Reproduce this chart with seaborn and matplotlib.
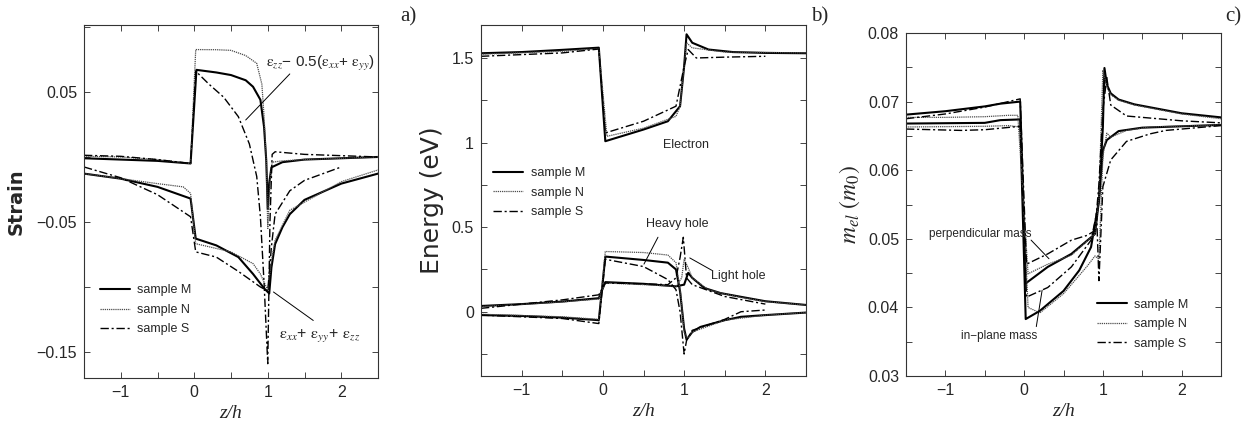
import matplotlib
matplotlib.use("Agg")
import matplotlib.pyplot as plt
from matplotlib.lines import Line2D
from matplotlib.ticker import MultipleLocator
import seaborn as sns

# ---------------- data ----------------
# a) strain: upper = eps_zz - 0.5(eps_xx+eps_yy), lower = eps_xx+eps_yy+eps_zz
a_top_M_x = [-1.5, -1.0, -0.5, -0.05, 0.03, 0.3, 0.5, 0.7, 0.8, 0.9, 0.95, 0.98, 1.0, 1.02, 1.05, 1.2, 1.5, 2.0, 2.5]
a_top_M_y = [-0.001, -0.002, -0.003, -0.005, 0.067, 0.065, 0.063, 0.059, 0.054, 0.044, 0.023, -0.003, -0.04, -0.02, -0.008, -0.004, -0.002, -0.001, 0.0]
a_top_N_x = [-1.5, -1.0, -0.5, -0.05, 0.02, 0.3, 0.5, 0.7, 0.85, 0.92, 0.95, 0.98, 1.0, 1.03, 1.06, 1.2, 1.5, 2.0, 2.5]
a_top_N_y = [0.0005, 0.0, -0.002, -0.005, 0.0826, 0.0825, 0.082, 0.078, 0.072, 0.056, 0.031, -0.003, -0.055, -0.02, -0.004, -0.003, -0.002, -0.001, 0.0]
a_top_S_x = [-1.5, -1.0, -0.5, -0.05, 0.02, 0.2, 0.4, 0.6, 0.75, 0.85, 0.9, 0.95, 1.0, 1.03, 1.06, 1.1, 1.5, 2.0, 2.5]
a_top_S_y = [0.0013, 0.0005, -0.002, -0.005, 0.066, 0.056, 0.046, 0.031, 0.010, -0.015, -0.046, -0.097, -0.159, -0.05, 0.002, 0.004, 0.002, 0.001, 0.0]

a_bot_M_x = [-1.5, -1.0, -0.5, -0.05, 0.02, 0.3, 0.6, 0.8, 0.95, 1.02, 1.05, 1.1, 1.2, 1.3, 1.5, 2.0, 2.5]
a_bot_M_y = [-0.0128, -0.0167, -0.023, -0.032, -0.0628, -0.068, -0.077, -0.090, -0.101, -0.105, -0.085, -0.067, -0.054, -0.044, -0.033, -0.0205, -0.0128]
a_bot_N_x = [-1.5, -0.5, -0.15, -0.05, 0.02, 0.5, 0.8, 0.9, 1.0, 1.05, 1.1, 1.3, 2.0, 2.5]
a_bot_N_y = [-0.0128, -0.0205, -0.023, -0.028, -0.0667, -0.073, -0.082, -0.09, -0.1026, -0.08, -0.064, -0.041, -0.019, -0.010]
a_bot_S_x = [-1.5, -1.0, -0.5, -0.05, 0.02, 0.3, 0.6, 0.9, 1.0, 1.05, 1.1, 1.3, 1.5, 2.0]
a_bot_S_y = [-0.0077, -0.016, -0.029, -0.046, -0.073, -0.077, -0.088, -0.100, -0.103, -0.069, -0.044, -0.026, -0.018, -0.0077]

# b) band edges: electron, heavy hole, light hole
b_el_M_x = [-1.5, -1.0, -0.5, -0.05, 0.03, 0.5, 0.8, 0.95, 1.0, 1.03, 1.1, 1.3, 1.6, 2.0, 2.5]
b_el_M_y = [1.528, 1.535, 1.548, 1.561, 1.008, 1.077, 1.126, 1.215, 1.45, 1.64, 1.59, 1.55, 1.535, 1.53, 1.528]
b_el_N_x = [-1.5, -0.5, -0.05, 0.05, 0.5, 0.9, 0.95, 1.03, 1.1, 1.5, 2.5]
b_el_N_y = [1.522, 1.54, 1.555, 1.037, 1.085, 1.155, 1.215, 1.59, 1.56, 1.535, 1.53]
b_el_S_x = [-1.5, -0.5, -0.05, 0.03, 0.5, 0.9, 1.0, 1.05, 1.15, 1.5, 2.0]
b_el_S_y = [1.51, 1.53, 1.553, 1.057, 1.126, 1.215, 1.45, 1.55, 1.50, 1.505, 1.51]

b_hh_M_x = [-1.5, -1.0, -0.5, -0.05, 0.03, 0.5, 0.8, 0.9, 0.95, 1.0, 1.03, 1.1, 1.2, 1.5, 1.7, 2.0, 2.5]
b_hh_M_y = [-0.02, -0.025, -0.035, -0.05, 0.326, 0.306, 0.29, 0.25, 0.12, -0.1, -0.165, -0.12, -0.09, -0.05, -0.03, -0.02, -0.005]
b_hh_N_x = [-1.5, -0.5, -0.05, 0.03, 0.5, 0.8, 0.9, 0.96, 1.0, 1.04, 1.1, 1.5, 2.0, 2.5]
b_hh_N_y = [-0.015, -0.03, -0.045, 0.356, 0.35, 0.335, 0.29, 0.1, -0.12, -0.16, -0.12, -0.05, -0.02, -0.005]
b_hh_S_x = [-1.5, -0.5, -0.05, 0.03, 0.5, 0.8, 0.9, 0.95, 1.0, 1.03, 1.1, 1.5, 1.7, 2.0]
b_hh_S_y = [-0.02, -0.04, -0.07, 0.31, 0.267, 0.19, 0.13, 0.0, -0.25, -0.17, -0.11, -0.045, 0.0, 0.01]

b_lh_M_x = [-1.5, -1.0, -0.5, -0.05, 0.03, 0.5, 0.9, 1.0, 1.05, 1.1, 1.25, 1.45, 1.7, 2.0, 2.5]
b_lh_M_y = [0.034, 0.045, 0.06, 0.08, 0.175, 0.165, 0.15, 0.16, 0.23, 0.2, 0.14, 0.11, 0.088, 0.062, 0.04]
b_lh_N_x = [-1.5, -0.5, -0.05, 0.03, 0.5, 0.9, 0.97, 1.0, 1.05, 1.1, 1.3, 1.5, 1.7, 2.0, 2.5]
b_lh_N_y = [0.03, 0.058, 0.075, 0.17, 0.16, 0.15, 0.2, 0.31, 0.26, 0.2, 0.13, 0.105, 0.085, 0.06, 0.04]
b_lh_S_x = [-1.5, -0.5, -0.05, 0.03, 0.5, 0.8, 0.9, 0.95, 0.99, 1.03, 1.1, 1.5, 2.0]
b_lh_S_y = [0.02, 0.07, 0.1, 0.17, 0.165, 0.16, 0.2, 0.32, 0.44, 0.2, 0.16, 0.09, 0.045]

# c) electron effective mass: perpendicular and in-plane
c_perp_M_x = [-1.5, -1.0, -0.5, -0.3, -0.05, 0.02, 0.3, 0.6, 0.9, 0.95, 1.0, 1.02, 1.05, 1.1, 1.2, 1.4, 2.0, 2.5]
c_perp_M_y = [0.0681, 0.0686, 0.0693, 0.0697, 0.0700, 0.0435, 0.0459, 0.0478, 0.0507, 0.0556, 0.0663, 0.0749, 0.0725, 0.0712, 0.0703, 0.0696, 0.0683, 0.0677]
c_perp_N_x = [-1.5, -1.0, -0.5, -0.2, -0.08, 0.05, 0.3, 0.6, 0.9, 0.95, 1.0, 1.05, 1.1, 1.2, 1.4, 2.0, 2.5]
c_perp_N_y = [0.0677, 0.0677, 0.0678, 0.0680, 0.0680, 0.0449, 0.0463, 0.0476, 0.0507, 0.0560, 0.0746, 0.0722, 0.0710, 0.0702, 0.0695, 0.0682, 0.0675]
c_perp_S_x = [-1.5, -1.0, -0.5, -0.05, 0.03, 0.3, 0.6, 0.8, 0.9, 0.95, 1.0, 1.05, 1.1, 1.3, 1.6, 2.0, 2.5]
c_perp_S_y = [0.0675, 0.0682, 0.0692, 0.0704, 0.0463, 0.0478, 0.0498, 0.0505, 0.0512, 0.0580, 0.0688, 0.0735, 0.0695, 0.0679, 0.0676, 0.0672, 0.0669]

c_inpl_M_x = [-1.5, -0.5, -0.3, -0.05, 0.02, 0.2, 0.5, 0.7, 0.85, 0.95, 1.0, 1.05, 1.2, 1.5, 2.5]
c_inpl_M_y = [0.0668, 0.0669, 0.0673, 0.0674, 0.0383, 0.0395, 0.0424, 0.0454, 0.0488, 0.0556, 0.0629, 0.0644, 0.0657, 0.0662, 0.0666]
c_inpl_N_x = [-1.5, -0.5, -0.2, -0.05, 0.05, 0.2, 0.5, 0.8, 0.9, 0.95, 1.0, 1.05, 1.1, 1.3, 1.6, 2.5]
c_inpl_N_y = [0.0663, 0.0664, 0.0665, 0.0663, 0.0400, 0.0392, 0.0420, 0.0460, 0.0475, 0.0470, 0.0620, 0.0654, 0.0648, 0.0658, 0.0663, 0.0666]
c_inpl_S_x = [-1.5, -0.8, -0.5, -0.05, 0.03, 0.3, 0.6, 0.85, 0.92, 0.95, 1.0, 1.1, 1.3, 1.6, 1.8, 2.5]
c_inpl_S_y = [0.0660, 0.0658, 0.0659, 0.0664, 0.0415, 0.0429, 0.0459, 0.0498, 0.0537, 0.0439, 0.0576, 0.0615, 0.0642, 0.0653, 0.0658, 0.0665]

samples = ['M', 'N', 'S']
sample_labels = ['sample M', 'sample N', 'sample S']

x_ticks = [-1, 0, 1, 2]
x_ticklabels = ['\u22121', '0', '1', '2']
a_yticks = [-0.15, -0.05, 0.05]
a_yticklabels = ['\u22120.15', '\u22120.05', '0.05']
b_yticks = [0, 0.5, 1, 1.5]
b_yticklabels = ['0', '0.5', '1', '1.5']
c_yticks = [0.03, 0.04, 0.05, 0.06, 0.07, 0.08]
c_yticklabels = ['0.03', '0.04', '0.05', '0.06', '0.07', '0.08']

# ---------------- style ----------------
sns.set_style("ticks", {"xtick.direction": "in", "ytick.direction": "in"})
plt.rcParams['font.family'] = ['Liberation Sans', 'DejaVu Sans']
plt.rcParams['mathtext.fontset'] = 'stix'

styles = {
    'M': dict(color='black', linewidth=1.5, linestyle='-'),
    'N': dict(color='0.3', linewidth=0.9, linestyle=(0, (1, 0.7))),
    'S': dict(color='black', linewidth=1.0, linestyle=(0, (6, 2, 1.5, 2))),
}


def draw(ax, xs, ys, sample):
    sns.lineplot(x=xs, y=ys, ax=ax, sort=False, estimator=None, **styles[sample])


def frame(ax, yticks, yticklabels, ylim, yminor):
    ax.set_xlim(-1.5, 2.5)
    ax.set_ylim(*ylim)
    ax.set_xticks(x_ticks, x_ticklabels)
    ax.set_yticks(yticks, yticklabels)
    ax.xaxis.set_minor_locator(MultipleLocator(0.5))
    ax.yaxis.set_minor_locator(MultipleLocator(yminor))
    ax.tick_params(which='both', direction='in', top=True, right=True,
                   length=4, width=0.6, labelsize=11.5, pad=5)
    for s in ax.spines.values():
        s.set_linewidth(0.8)
        s.set_color('0.2')
    ax.set_xlabel('z/h', family='Liberation Serif', style='italic', fontsize=14)


def legend(ax, x, y):
    handles = [Line2D([], [], **styles[s]) for s in samples]
    ax.legend(handles, sample_labels, loc='upper left', bbox_to_anchor=(x, y),
              frameon=False, fontsize=9, handlelength=2.4, handletextpad=0.6,
              labelspacing=0.6, borderaxespad=0, borderpad=0)


eps = r'$\mathrm{\varepsilon}_{%s}$'

fig = plt.figure(figsize=(12.53, 4.28), dpi=100)
W, H = 1253, 428
ax_a = fig.add_axes([84 / W, (H - 378) / H, 294 / W, 353 / H])
ax_b = fig.add_axes([481 / W, (H - 376) / H, 325 / W, 351 / H])
ax_c = fig.add_axes([906 / W, (H - 376) / H, 315 / W, 343 / H])

# ---- panel a
a_curves = {'M': [(a_top_M_x, a_top_M_y), (a_bot_M_x, a_bot_M_y)],
            'N': [(a_top_N_x, a_top_N_y), (a_bot_N_x, a_bot_N_y)],
            'S': [(a_top_S_x, a_top_S_y), (a_bot_S_x, a_bot_S_y)]}
for s in samples:
    for xs, ys in a_curves[s]:
        draw(ax_a, xs, ys, s)
frame(ax_a, a_yticks, a_yticklabels, (-0.17, 0.1015), 0.05)
ax_a.set_ylabel('Strain', family='DejaVu Sans', weight='bold', fontsize=14)
ax_a.yaxis.set_label_coords(-0.20, 0.5)
legend(ax_a, 0.054, 0.265)
ax_a.annotate('', xy=(0.674, 0.0269), xytext=(1.326, 0.0654),
              arrowprops=dict(arrowstyle='-', lw=0.7, color='black'))
ax_a.text(1.72, 0.0718, eps % 'zz' + '\u2212 0.5(' + eps % 'xx' + '+ ' + eps % 'yy' + ')',
          ha='center', va='center', fontsize=11)
ax_a.annotate('', xy=(1.047, -0.1026), xytext=(1.65, -0.127),
              arrowprops=dict(arrowstyle='-', lw=0.7, color='black'))
ax_a.text(1.70, -0.137, eps % 'xx' + '+ ' + eps % 'yy' + '+ ' + eps % 'zz',
          ha='center', va='center', fontsize=11.5)

# ---- panel b
b_curves = {'M': [(b_el_M_x, b_el_M_y), (b_hh_M_x, b_hh_M_y), (b_lh_M_x, b_lh_M_y)],
            'N': [(b_el_N_x, b_el_N_y), (b_hh_N_x, b_hh_N_y), (b_lh_N_x, b_lh_N_y)],
            'S': [(b_el_S_x, b_el_S_y), (b_hh_S_x, b_hh_S_y), (b_lh_S_x, b_lh_S_y)]}
for s in samples:
    for xs, ys in b_curves[s]:
        draw(ax_b, xs, ys, s)
frame(ax_b, b_yticks, b_yticklabels, (-0.38, 1.695), 0.25)
ax_b.set_ylabel('Energy (eV)', family='DejaVu Sans', fontsize=18)
ax_b.yaxis.set_label_coords(-0.115, 0.5)
legend(ax_b, 0.037, 0.595)
ax_b.text(1.02, 0.985, 'Electron', ha='center', va='center', fontsize=9)
ax_b.text(0.92, 0.52, 'Heavy hole', ha='center', va='center', fontsize=9)
ax_b.annotate('', xy=(0.49, 0.267), xytext=(0.694, 0.455),
              arrowprops=dict(arrowstyle='-', lw=0.7, color='black'))
ax_b.text(1.67, 0.21, 'Light hole', ha='center', va='center', fontsize=9)
ax_b.annotate('', xy=(1.04, 0.326), xytext=(1.37, 0.237),
              arrowprops=dict(arrowstyle='-', lw=0.7, color='black'))

# ---- panel c
c_curves = {'M': [(c_perp_M_x, c_perp_M_y), (c_inpl_M_x, c_inpl_M_y)],
            'N': [(c_perp_N_x, c_perp_N_y), (c_inpl_N_x, c_inpl_N_y)],
            'S': [(c_perp_S_x, c_perp_S_y), (c_inpl_S_x, c_inpl_S_y)]}
for s in samples:
    for xs, ys in c_curves[s]:
        draw(ax_c, xs, ys, s)
frame(ax_c, c_yticks, c_yticklabels, (0.03, 0.08), 0.005)
ax_c.set_ylabel(r'$m_{el}\ (m_0)$', fontsize=17)
ax_c.yaxis.set_label_coords(-0.14, 0.5)
legend(ax_c, 0.606, 0.225)
ax_c.text(-0.56, 0.0507, 'perpendicular mass', ha='center', va='center', fontsize=8.5)
ax_c.annotate('', xy=(0.34, 0.0468), xytext=(0.064, 0.0501),
              arrowprops=dict(arrowstyle='-', lw=0.7, color='black'))
ax_c.text(-0.32, 0.0358, 'in\u2212plane mass', ha='center', va='center', fontsize=8.5)
ax_c.annotate('', xy=(0.234, 0.0429), xytext=(0.149, 0.0368),
              arrowprops=dict(arrowstyle='-', lw=0.7, color='black'))

# panel letters
for lab, px in [('a)', 408), ('b)', 820), ('c)', 1233)]:
    fig.text(px / W, 1 - 17 / H, lab, family='Liberation Serif', fontsize=15,
             ha='center', va='center')

fig.savefig('out.png', dpi=100)
